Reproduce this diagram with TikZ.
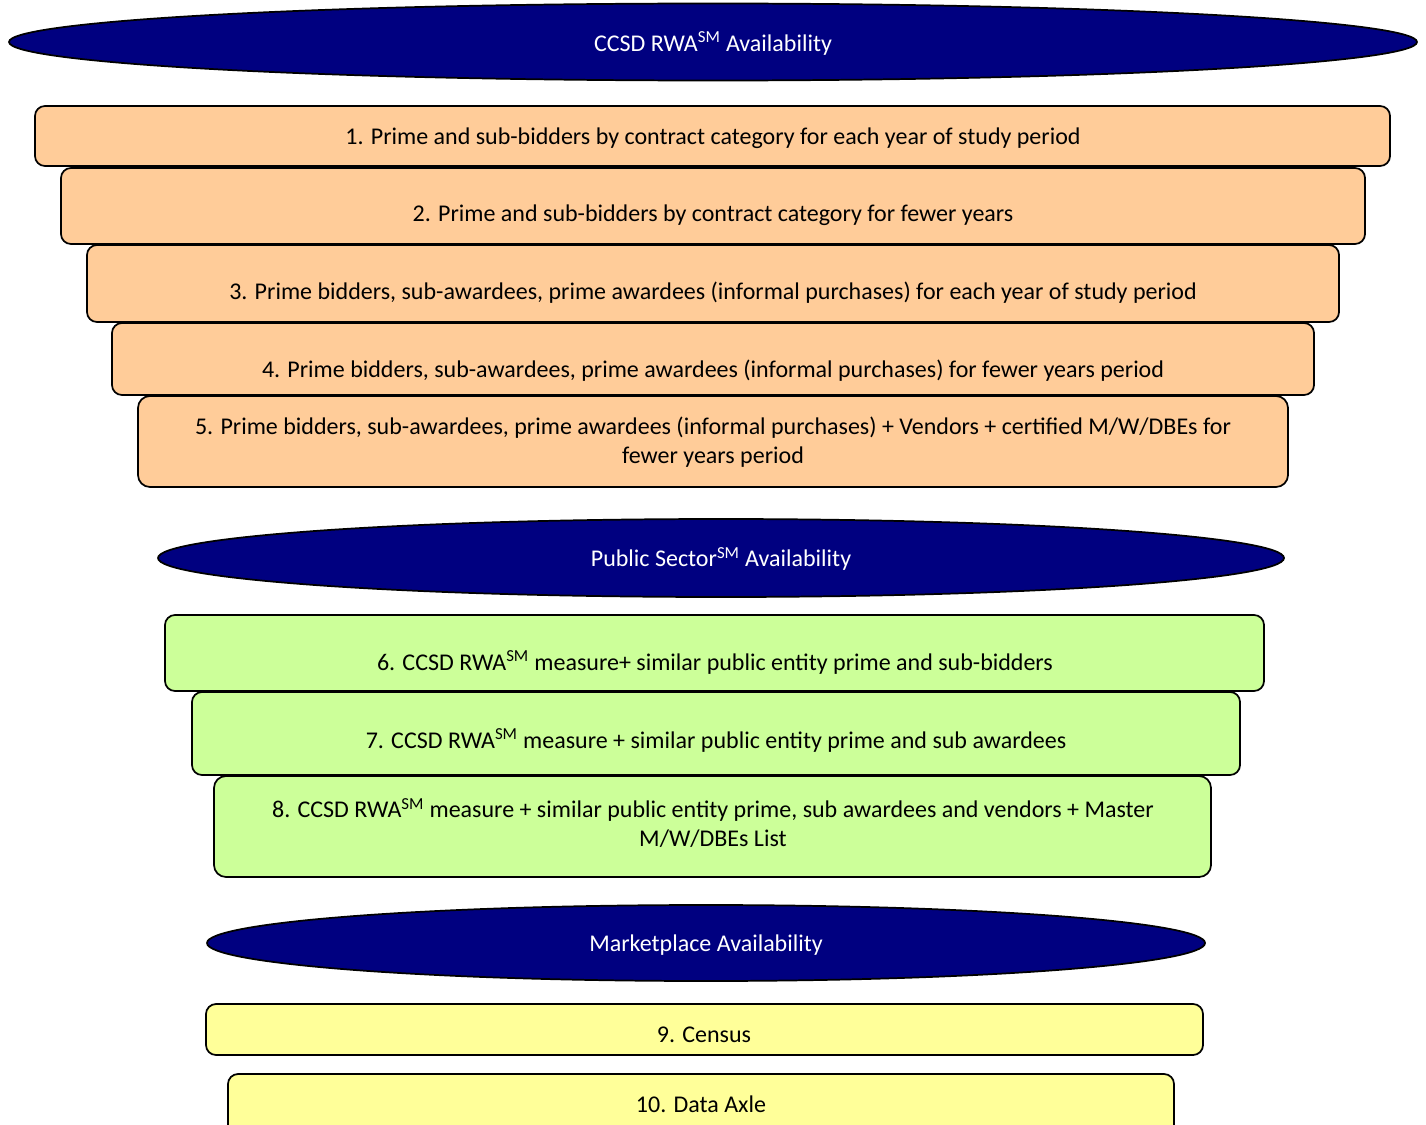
\documentclass[tikz,border=0pt]{standalone}
\usepackage{fontspec}
\setmainfont{Carlito}
\usetikzlibrary{shapes.geometric,fit}
\definecolor{navyfill}{HTML}{000080}
\definecolor{orangefill}{HTML}{FFCC99}
\definecolor{greenfill}{HTML}{CCFF99}
\definecolor{yellowfill}{HTML}{FFFF99}
\tikzset{
  px/.style={x=0.75pt,y=-0.75pt},
  boxbase/.style={draw=black,line width=1.3pt,rounded corners=7.5pt,inner sep=0pt},
  orangebox/.style={boxbase,fill=orangefill},
  greenbox/.style={boxbase,fill=greenfill},
  yellowbox/.style={boxbase,fill=yellowfill},
  oval/.style={ellipse,draw=black,line width=1.3pt,fill=navyfill,inner sep=0pt},
  ovaltxt/.style={inner sep=0pt,text=white},
  txt/.style={inner sep=0pt,align=center,text=black}
}
\newcommand{\sm}{\textsuperscript{SM}}
\begin{document}
\begin{tikzpicture}[px,font=\fontsize{18}{21.75}\selectfont]
\useasboundingbox (0,0) rectangle (1426,1124);
\clip (0,0) rectangle (1426,1124);
\fill[white] (0,0) rectangle (1426,1124);

% ellipse 1
\node[oval,minimum width=1056pt,minimum height=57.75pt] (e1) at (713,42) {};
\node[ovaltxt] (te1) at (713,43.5) {CCSD RWA\sm{} Availability};

% orange boxes
\node[orangebox,fit={(35,106) (1390,166)}] (b1) {};
\node[txt] (t1) at (713,138) {1. Prime and sub-bidders by contract category for each year of study period};
\node[orangebox,fit={(61,168) (1365,244)}] (b2) {};
\node[txt] (t2) at (713,215) {2. Prime and sub-bidders by contract category for fewer years};
\node[orangebox,fit={(87,245) (1339,322)}] (b3) {};
\node[txt] (t3) at (713,293) {3. Prime bidders, sub-awardees, prime awardees (informal purchases) for each year of study period};
\node[orangebox,fit={(112,323) (1314,395)}] (b4) {};
\node[txt] (t4) at (713,371) {4. Prime bidders, sub-awardees, prime awardees (informal purchases) for fewer years period};
\node[orangebox,rounded corners=9pt,fit={(138,396) (1288,487)}] (b5) {};
\node[txt] (t5) at (713,442) {5. Prime bidders, sub-awardees, prime awardees (informal purchases) + Vendors + certified M/W/DBEs for\\fewer years period};

% ellipse 2
\node[oval,minimum width=844.5pt,minimum height=58.5pt] (e2) at (721,558) {};
\node[ovaltxt] (te2) at (721,559) {Public Sector\sm{} Availability};

% green boxes
\node[greenbox,fit={(165,615) (1264,691)}] (b6) {};
\node[txt] (t6) at (715,662.5) {6. CCSD RWA\sm{} measure+ similar public entity prime and sub-bidders};
\node[greenbox,fit={(192,692) (1240,775)}] (b7) {};
\node[txt] (t7) at (716,740.5) {7. CCSD RWA\sm{} measure + similar public entity prime and sub awardees};
\node[greenbox,rounded corners=9pt,fit={(214,776) (1211,877)}] (b8) {};
\node[txt] (t8) at (713,823) {8. CCSD RWA\sm{} measure + similar public entity prime, sub awardees and vendors + Master\\M/W/DBEs List};

% ellipse 3
\node[oval,minimum width=748.5pt,minimum height=57pt] (e3) at (706,943) {};
\node[ovaltxt] (te3) at (706,945) {Marketplace Availability};

% yellow boxes
\node[yellowbox,fit={(206,1004) (1203,1055)}] (b9) {};
\node[txt] (t9) at (704,1034.5) {9. Census};
\node[yellowbox,fit={(228,1074) (1174,1140)}] (b10) {};
\node[txt] (t10) at (701,1104.5) {10. Data Axle};
\end{tikzpicture}
\end{document}
